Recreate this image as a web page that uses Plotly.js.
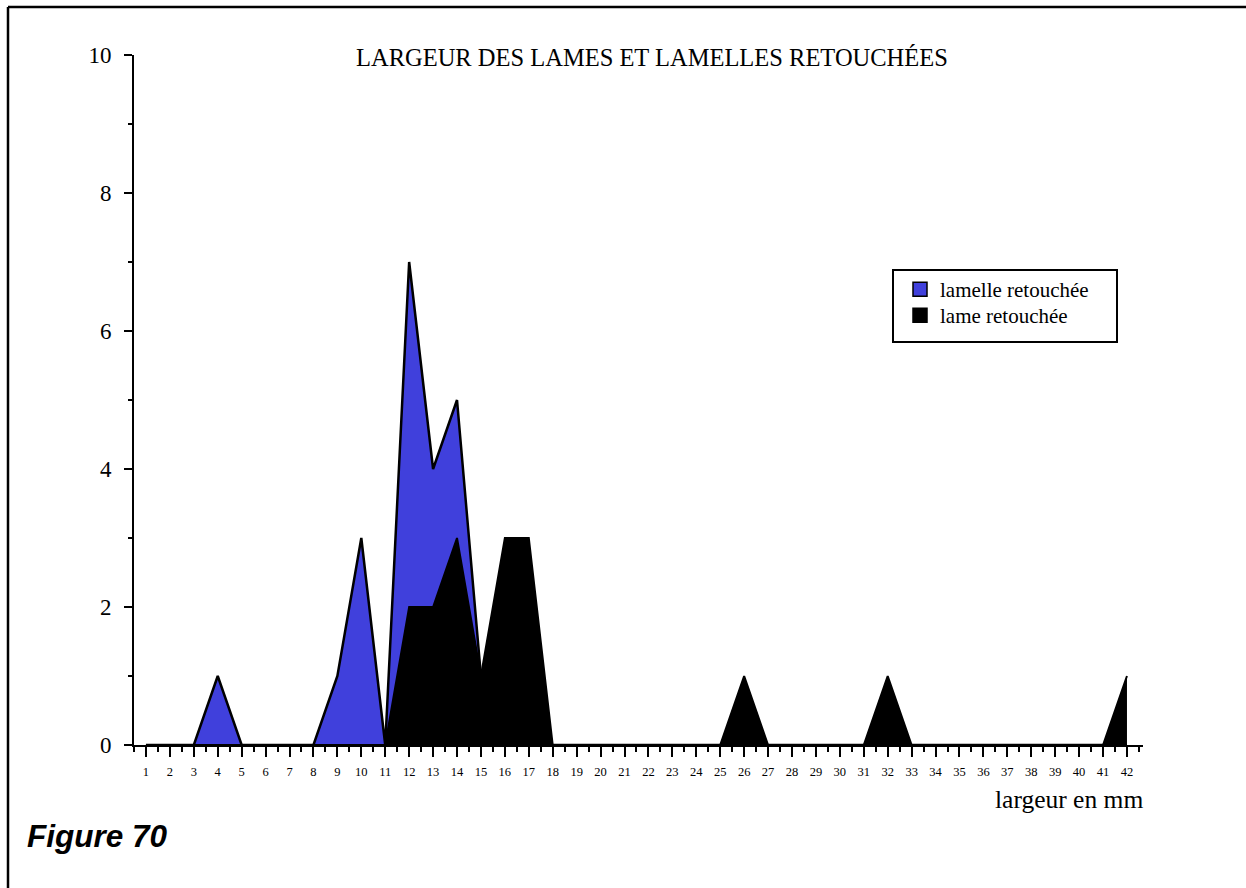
<!DOCTYPE html>
<html>
<head>
<meta charset="utf-8">
<script src="https://cdn.plot.ly/plotly-3.0.1.min.js"></script>
<style>
html,body{margin:0;padding:0;background:#fff;}
#chart{width:1246px;height:888px;}
</style>
</head>
<body>
<div id="chart"></div>
<script>
// widths in mm (x categories)
const widths = [1,2,3,4,5,6,7,8,9,10,11,12,13,14,15,16,17,18,19,20,21,22,23,24,25,26,27,28,29,30,31,32,33,34,35,36,37,38,39,40,41,42];
// lamelle retouchée counts
const lamelle = [0,0,0,1,0,0,0,0,1,3,0,7,4,5,1,0,0,0,0,0,0,0,0,0,0,0,0,0,0,0,0,0,0,0,0,0,0,0,0,0,0,0];
// lame retouchée counts
const lame    = [0,0,0,0,0,0,0,0,0,0,0,2,2,3,1,3,3,0,0,0,0,0,0,0,0,1,0,0,0,0,0,1,0,0,0,0,0,0,0,0,0,1];
const seriesNames = ['lamelle retouchée','lame retouchée'];
const titleText = 'LARGEUR DES LAMES ET LAMELLES RETOUCHÉES';
const xTitle = 'largeur en mm';
const figLabel = 'Figure 70';

const BLUE = '#4040dc';
const serif = 'Liberation Serif, Times New Roman, serif';

// plot area pixel geometry
const L = 134, R = 1143, T = 55, B = 745;
const W = R - L, H = B - T;
const px = v => (v - L) / W;
const py = v => (B - v) / H;

const traces = [
  {x: widths, y: lamelle, type:'scatter', mode:'lines', fill:'tozeroy',
   fillcolor: BLUE, line:{color:'#000', width:2.5}, showlegend:false, hoverinfo:'skip'},
  {x: widths, y: lame, type:'scatter', mode:'lines', fill:'tozeroy',
   fillcolor: '#000', line:{color:'#000', width:2}, showlegend:false, hoverinfo:'skip'},
  {x:[null], y:[null], type:'scatter', mode:'markers', name: seriesNames[0], legend:'legend',
   marker:{symbol:'square', size:14, color: BLUE, line:{color:'#000', width:1.5}}},
  {x:[null], y:[null], type:'scatter', mode:'markers', name: seriesNames[1], legend:'legend2',
   marker:{symbol:'square', size:14, color: '#000', line:{color:'#000', width:1.5}}}
];

const legendStyle = (top) => ({
  x: px(900), y: py(top), xanchor:'left', yanchor:'top',
  bgcolor:'rgba(0,0,0,0)', borderwidth:0,
  font:{family: serif, size:21, color:'#000'},
  itemwidth:30, tracegroupgap:0
});

const layout = {
  width:1246, height:888,
  paper_bgcolor:'#fff', plot_bgcolor:'#fff',
  margin:{l:L, r:1246-R, t:T, b:888-B, pad:0},
  showlegend:true,
  font:{family: serif, color:'#000'},
  xaxis:{
    range:[0.5, 42.67], showgrid:false, zeroline:false,
    showline:true, linecolor:'#000', linewidth:2,
    ticks:'outside', ticklen:10, tickwidth:2, tickcolor:'#000',
    tickmode:'array', tickvals: widths, ticktext: widths.map(String),
    tickfont:{family: serif, size:12.5, color:'#000'},
    ticklabelstandoff: 4,
    minor:{tickmode:'linear', tick0:0.5, dtick:1, ticks:'outside', ticklen:5, tickwidth:2, tickcolor:'#000'},
    fixedrange:true
  },
  yaxis:{
    range:[0,10], showgrid:false, zeroline:false,
    showline:true, linecolor:'#000', linewidth:2,
    ticks:'outside', ticklen:8, tickwidth:2, tickcolor:'#000',
    tickmode:'linear', tick0:0, dtick:2,
    tickfont:{family: serif, size:23, color:'#000'},
    ticklabelstandoff: 8,
    minor:{tickmode:'linear', tick0:1, dtick:2, ticks:'outside', ticklen:4, tickwidth:2, tickcolor:'#000'},
    fixedrange:true
  },
  legend: legendStyle(269),
  legend2: legendStyle(295),
  annotations:[
    {text: titleText, xref:'paper', yref:'paper', x: px(652), y: py(58),
     xanchor:'center', yanchor:'middle', showarrow:false,
     font:{family: serif, size:24.5, color:'#000'}},
    {text: xTitle, xref:'paper', yref:'paper', x: px(1145), y: py(799),
     xanchor:'right', yanchor:'middle', showarrow:false,
     font:{family: serif, size:25.5, color:'#000'}},
    {text: '<b><i>'+figLabel+'</i></b>', xref:'paper', yref:'paper', x: px(25), y: py(836),
     xanchor:'left', yanchor:'middle', showarrow:false,
     font:{family:'Liberation Sans, Arial, sans-serif', size:31.5, color:'#000'}}
  ],
  shapes:[
    {type:'line', xref:'paper', yref:'paper', x0: px(8), x1: px(1250), y0: py(7), y1: py(7),
     line:{color:'#000', width:2.5}},
    {type:'line', xref:'paper', yref:'paper', x0: px(8), x1: px(8), y0: py(7), y1: py(892),
     line:{color:'#000', width:2.5}},
    {type:'rect', xref:'paper', yref:'paper', layer:'above',
     x0: px(893), x1: px(1117), y0: py(342), y1: py(270),
     fillcolor:'#fff', line:{color:'#000', width:2}}
  ]
};

Plotly.newPlot('chart', traces, layout, {staticPlot:true, displayModeBar:false});
</script>
</body>
</html>
